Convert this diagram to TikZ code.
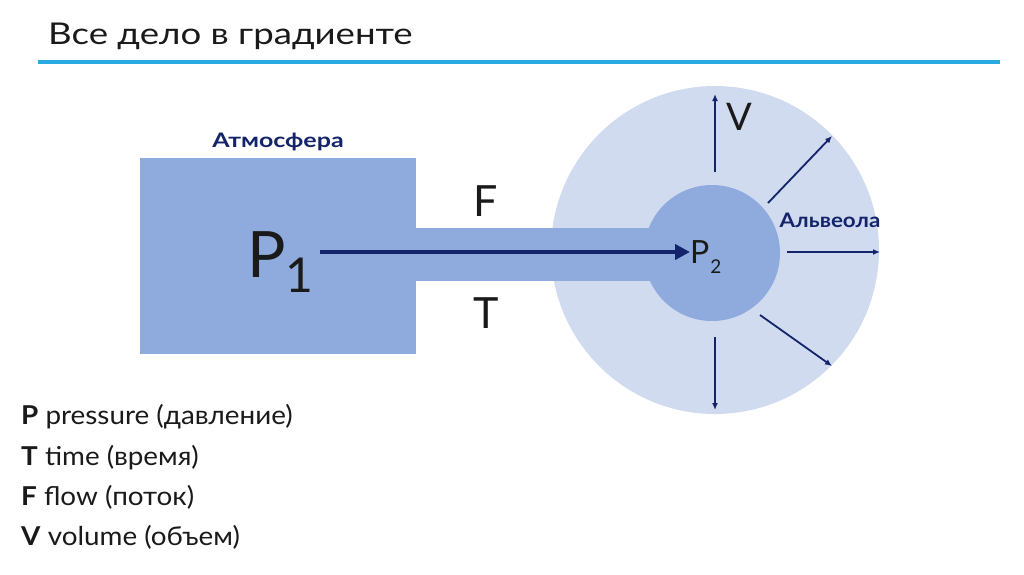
\documentclass[tikz,border=0pt]{standalone}
\usepackage{fontspec}
\setmainfont{Lato}
\usetikzlibrary{positioning, arrows.meta, calc}
\definecolor{rulecyan}{HTML}{29ABE2}
\definecolor{atmblue}{HTML}{8FAADC}
\definecolor{walllight}{HTML}{D0DBF0}
\definecolor{navy}{HTML}{14246A}
\definecolor{inkgrey}{HTML}{1A1A1A}

\begin{document}
\begin{tikzpicture}[x=1pt, y=-1pt,
                chamber/.style={fill=atmblue, draw=none, inner sep=0pt},
                bubble/.style={circle, inner sep=0pt, draw=none},
                flow/.style={navy, line width=4.5pt, -{Triangle[length=15pt, width=15pt]}},
                radial/.style={navy, line width=1.8pt, -{Latex[length=7pt, width=6pt]}},
                bigsym/.style={inkgrey, inner sep=0pt, anchor=base west},
                tag/.style={navy, inner sep=0pt, font=\fontsize{20}{20}\selectfont\bfseries},
                legend/.style={inkgrey, inner sep=0pt, anchor=base west, xscale=1.07, font=\fontsize{26}{26}\selectfont}
            ]
            \useasboundingbox (0,0) rectangle (1024,574);

            % Titel
            \node[inkgrey, anchor=base west, inner sep=0pt, xscale=1.22, font=\fontsize{30}{30}\selectfont] (title) at (48,44) {Все дело в градиенте};
            \draw[rulecyan, line width=4pt] (38,62) -- (1000,62);

            % Knoten
            \node[bubble, fill=walllight, minimum size=328pt] (wall) at (715,250) {};
            \node[chamber, minimum width=276pt, minimum height=196pt] (atm) at (278,256) {};
            \node[chamber, minimum width=250pt, minimum height=53pt] (pipe) at (541,254.5) {};
            \node[bubble, fill=atmblue, minimum size=136pt] (alv) at (712,253) {};
            \node[tag, xscale=1.25, above=7pt of atm] (atmlabel) {Атмосфера};
            \node[tag, xscale=1.12, anchor=base] (alvlabel) at (830,227) {Альвеола};

            \node[bigsym, font=\fontsize{64}{64}\selectfont] (p1) at (247,277) {P\kern0pt\raisebox{-15pt}{\fontsize{48}{48}\selectfont 1}};
            \node[bigsym, font=\fontsize{32}{32}\selectfont] (p2) at (690,263) {P\kern1pt\raisebox{-10pt}{\fontsize{19}{19}\selectfont 2}};
            \node[bigsym, anchor=base, font=\fontsize{43}{43}\selectfont] (flabel) at (486,216) {F};
            \node[bigsym, anchor=base, font=\fontsize{43}{43}\selectfont] (tlabel) at (486,328) {T};
            \node[bigsym, font=\fontsize{38}{38}\selectfont] (vlabel) at (726,130) {V};

            % Kanten
            \coordinate (axis) at (320,252);
            \draw[flow] (axis) -- (axis -| p2.west);
            \foreach \s/\e [count=\i] in {{715,172}/{715,94}, {768,203}/{832,136}, {787,252}/{880,252}, {760,315}/{832,366}, {715,337}/{715,410}} {
                \coordinate (in\i) at (\s);
                \coordinate (out\i) at (\e);
                \draw[radial] (in\i) -- (out\i);
            }

            % Legende
            \node[legend] (lp) at (21,424) {\textbf{P} pressure (давление)};
            \node[legend] (lt) at (21,465) {\textbf{T} time (время)};
            \node[legend] (lf) at (21,505) {\textbf{F} flow (поток)};
            \node[legend] (lv) at (21,545) {\textbf{V} volume (объем)};

        \end{tikzpicture}
\end{document}
